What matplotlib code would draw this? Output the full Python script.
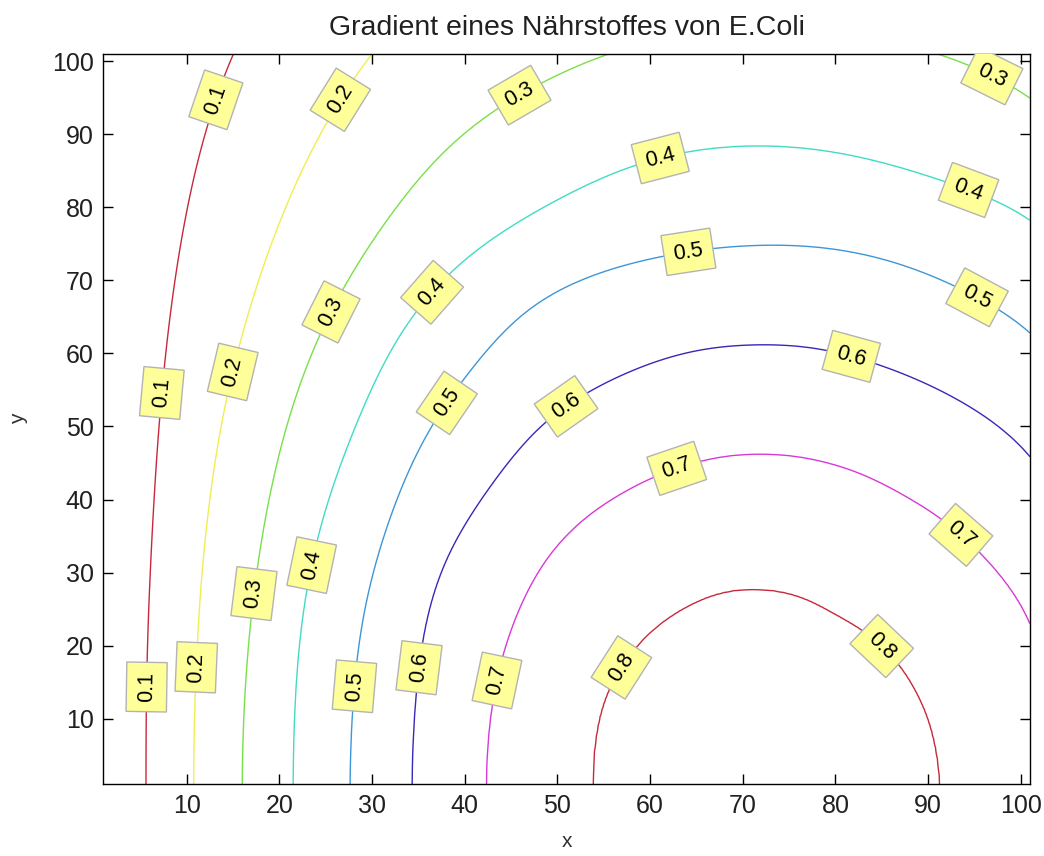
import numpy as np
import matplotlib
matplotlib.use("Agg")
import matplotlib.pyplot as plt

plt.rcParams["font.family"] = ["Liberation Sans", "DejaVu Sans"]

# Contour levels and their line colours (hsv-like sequence)
levels = [0.1, 0.2, 0.3, 0.4, 0.5, 0.6, 0.7, 0.8]
line_colors = ["#c8283c", "#f0ee50", "#78e048", "#40dcc4",
               "#3c96d8", "#3828b8", "#d838d8", "#c8283c"]

# Crest of every level (highest point of the arc) and the peak value at the source
peak_value = 0.87
crest_y = [145.0, 122.0, 104.5, 88.3, 74.6, 61.0, 46.1, 27.6]
crest_x = [72.5, 72.5, 73.0, 71.8, 71.8, 71.4, 72.2, 72.0]

# Left flank of each iso-line: (y, x) pairs (points above y = 101 lie outside the view)
left_01 = [(1, 5.86), (6, 5.9), (24, 6.14), (37.5, 6.68), (51, 7.33), (60.7, 7.94),
           (69.8, 8.9), (78.9, 10.0), (88, 11.36), (101, 14.5), (115, 20.5)]
left_02 = [(1, 10.9), (10.2, 11.07), (23.9, 11.5), (37.5, 12.4), (51.1, 13.9), (60.7, 15.6),
           (69.8, 17.9), (78.9, 20.2), (88, 23.6), (101, 29.5), (112, 38.0)]
left_03 = [(1, 16.1), (10.2, 16.3), (23.9, 17.1), (37.5, 18.6), (51.1, 21.0), (60.7, 23.6),
           (69.8, 27.2), (78.9, 32.2), (89.2, 38.4), (95.1, 45.7), (101, 55.5)]
left_04 = [(1, 21.6), (10.2, 21.8), (23.9, 22.5), (37.5, 24.65), (51.6, 29.0), (60.7, 31.8),
           (71.0, 38.0), (79.7, 48.6), (87.0, 61.6)]
left_05 = [(1, 27.7), (10.2, 28.0), (23.9, 29.0), (37.5, 32.0), (51.1, 36.7), (58.0, 41.2),
           (65.1, 45.3), (69.7, 51.8), (72.4, 58.8), (73.8, 64.5)]
left_06 = [(1, 34.4), (10.2, 34.7), (23.9, 35.9), (30.7, 37.4), (41.7, 42.9), (50.8, 48.6),
           (54.7, 53.5), (57.9, 58.8)]
left_07 = [(1, 42.4), (20, 44.4), (31.7, 48.6), (37.2, 52.7), (40.8, 57.1), (44.5, 63.7)]
left_08 = [(1, 53.9), (10, 54.5), (14.3, 55.6), (20.2, 58.8), (25.2, 63.9)]

# Right flank of each iso-line: (y, x) pairs (parts beyond x = 101 lie outside the view)
right_01 = [(1, 139.0), (51, 137.5), (101, 130.0)]
right_02 = [(1, 134.0), (51, 131.0), (101, 115.0)]
right_03 = [(1, 128.7), (51, 123.8), (80, 112.5), (89.2, 106.4), (95.8, 101.0), (101, 90.6)]
right_04 = [(1, 123.2), (37.5, 120.0), (60.7, 113.5), (71.0, 107.0), (79.2, 101.2),
            (82.4, 93.1), (86.5, 83.3)]
right_05 = [(1, 117.1), (37.5, 112.8), (51.1, 108.0), (63.5, 101.2), (67, 95.9),
            (72, 87.3), (74.3, 79.2)]
right_06 = [(1, 110.4), (23.9, 109.0), (30.7, 107.4), (41.7, 103.5), (46.5, 101.0),
            (54.7, 91.4), (58.3, 84.5)]
right_07 = [(1, 103.5), (23.5, 101.2), (31.7, 96.3), (40.4, 87.3), (44.9, 79.2)]
right_08 = [(1, 91.3), (9.8, 90.1), (18.0, 86.5), (22.9, 81.8), (24.3, 79.7)]

# Where the level labels sit (x, y)
label_x = [13.0, 8.1, 6.7, 26.5, 15.5, 11.4, 45.9, 25.4, 18.0, 96.4,
           36.9, 23.9, 61.0, 94.4, 38.9, 29.2, 64.2, 94.9,
           51.3, 36.0, 81.5, 43.2, 62.8, 93.3, 56.9, 83.6]
label_y = [94.8, 54.5, 14.3, 94.8, 57.3, 17.0, 95.4, 65.8, 27.0, 96.8,
           67.9, 30.9, 87.2, 82.5, 52.5, 14.3, 73.4, 66.8,
           52.1, 16.8, 58.6, 15.3, 44.6, 34.8, 17.0, 18.0]

left_flanks = [left_01, left_02, left_03, left_04, left_05, left_06, left_07, left_08]
right_flanks = [right_01, right_02, right_03, right_04, right_05, right_06, right_07, right_08]

# Polar frame around the source on the lower edge; y is squeezed so the arcs are near-circular
src_x, y_squeeze = 72.2, 0.6
theta_grid = np.linspace(0.0, np.pi, 721)
step = theta_grid[1] - theta_grid[0]


def polar(px, py):
    u = np.asarray(px, float) - src_x
    v = np.asarray(py, float) * y_squeeze
    return np.arctan2(v, u), np.hypot(u, v)


def smooth_profile(r, sigma_deg=5.0):
    # Gaussian smoothing with mirror padding at both ends of the half circle
    s = np.deg2rad(sigma_deg) / step
    half = int(4 * s)
    k = np.exp(-0.5 * (np.arange(-half, half + 1) / s) ** 2)
    k /= k.sum()
    padded = np.concatenate([r[half:0:-1], r, r[-2:-half - 2:-1]])
    return np.convolve(padded, k, mode="valid")


radius_profiles = []
for lf, rf, cy, cx in zip(left_flanks, right_flanks, crest_y, crest_x):
    pts = [(p[1], p[0]) for p in lf] + [(cx, cy)] + [(p[1], p[0]) for p in rf]
    th, rr = polar([p[0] for p in pts], [p[1] for p in pts])
    order = np.argsort(th)
    r_dense = np.interp(theta_grid, th[order], rr[order])
    radius_profiles.append(smooth_profile(r_dense))

# Concentration field: piecewise linear in radius between the iso-lines,
# continued outwards past the 0.1 line with the same spacing
xs = np.linspace(1, 101, 501)
ys = np.linspace(1, 101, 401)
X, Y = np.meshgrid(xs, ys)
TH, R = polar(X, Y)
ring = [np.interp(TH, theta_grid, prof) for prof in radius_profiles]
radii = [np.zeros_like(R)] + ring[::-1] + [2 * ring[0] - ring[1], np.full_like(R, 400.0)]
values = [peak_value] + levels[::-1] + [0.0, -1.0]

Z = np.zeros_like(R)
for k in range(len(radii) - 1):
    ra, rb = radii[k], radii[k + 1]
    va, vb = values[k], values[k + 1]
    m = (R >= ra) & (R < rb)
    Z[m] = va + (R[m] - ra[m]) / (rb[m] - ra[m]) * (vb - va)

fig = plt.figure(figsize=(10.44, 8.56), dpi=100)
ax = fig.add_axes([0.099, 0.0838, 0.8876, 0.853])

cs = ax.contour(X, Y, Z, levels=levels, colors=line_colors, linewidths=1.0)
texts = ax.clabel(cs, manual=list(zip(label_x, label_y)), inline=False,
                  fmt="%.1f", fontsize=15.5, colors="black")
for t in texts:
    t.set_bbox(dict(boxstyle="square,pad=0.45", facecolor="#ffff99",
                    edgecolor="#b3b3b3", linewidth=1.0))

ax.set_xlim(1, 101)
ax.set_ylim(1, 101)
ax.set_xticks(np.arange(10, 101, 10))
ax.set_yticks(np.arange(10, 101, 10))
ax.tick_params(direction="in", length=7, width=1, top=True, right=True,
               labelsize=18, pad=7, labelcolor="#202020")
for sp in ax.spines.values():
    sp.set_linewidth(1.0)

ax.set_title("Gradient eines Nährstoffes von E.Coli", fontsize=20.5, pad=14,
             color="#202020")
ax.set_xlabel("x", fontsize=15, labelpad=10, color="#303030")
ax.set_ylabel("y", fontsize=15, labelpad=17, color="#303030")

fig.savefig("out.png", dpi=100, facecolor="white")
